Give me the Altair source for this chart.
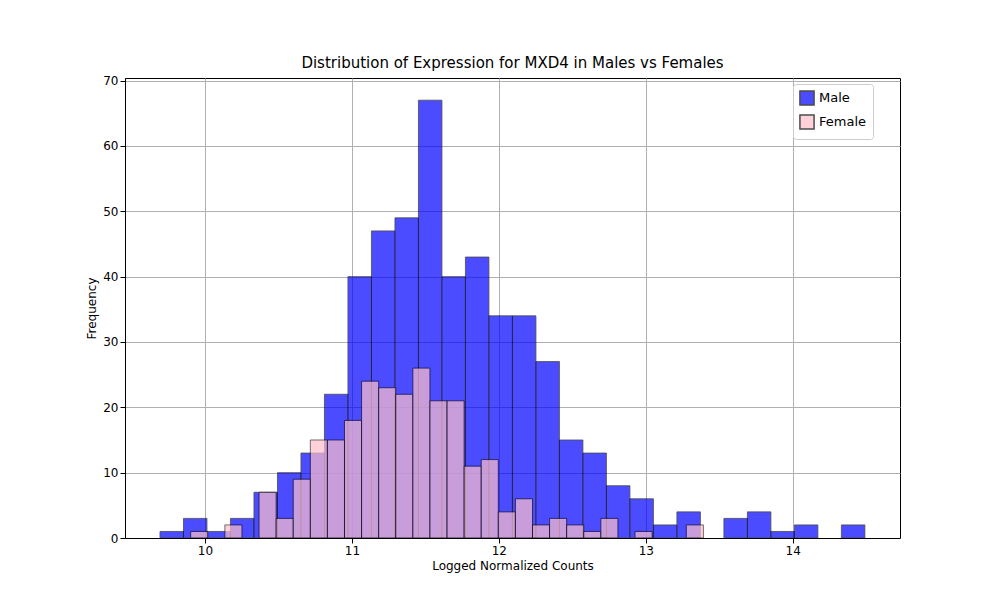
import altair as alt
import pandas as pd

male_start = 9.694
male_width = 0.1599
male_counts = [1, 3, 1, 3, 7, 10, 13, 22, 40, 47, 49, 67, 40, 43, 34, 34, 27, 15,
               13, 8, 6, 2, 4, 0, 3, 4, 1, 2, 0, 2]

female_start = 9.903
female_width = 0.1163
female_counts = [1, 0, 2, 0, 7, 3, 9, 15, 15, 18, 24, 23, 22, 26, 21, 21, 11, 12,
                 4, 6, 2, 3, 2, 1, 3, 0, 1, 0, 0, 2]


def bins(start, width, counts, label):
    rows = []
    for i, c in enumerate(counts):
        if c > 0:
            rows.append({"lo": start + i * width, "hi": start + (i + 1) * width,
                         "count": c, "sex": label})
    return pd.DataFrame(rows)


df = pd.concat([bins(male_start, male_width, male_counts, "Male"),
                bins(female_start, female_width, female_counts, "Female")])

chart = alt.Chart(df).mark_bar(
    opacity=0.7, stroke="black", strokeWidth=1, strokeOpacity=0.8
).encode(
    x=alt.X("lo:Q", scale=alt.Scale(domain=[9.456, 14.73], nice=False, zero=False),
            axis=alt.Axis(values=[10, 11, 12, 13, 14], title="Logged Normalized Counts")),
    x2="hi:Q",
    y=alt.Y("count:Q", scale=alt.Scale(domain=[0, 70.4], nice=False),
            axis=alt.Axis(values=list(range(0, 71, 10)), title="Frequency")),
    y2=alt.datum(0),
    color=alt.Color("sex:N", sort=["Male", "Female"],
                    scale=alt.Scale(domain=["Male", "Female"], range=["blue", "pink"]),
                    legend=alt.Legend(title=None, orient="none", legendX=668, legendY=6,
                                      symbolType="square", symbolSize=200,
                                      symbolOpacity=0.7, symbolStrokeColor="black",
                                      labelFontSize=13, padding=6, strokeColor="#ccc",
                                      fillColor="white", cornerRadius=3)),
    order=alt.Order("sex:N", sort="descending"),
).properties(
    width=775, height=460,
    title=alt.Title("Distribution of Expression for MXD4 in Males vs Females",
                    fontSize=15, fontWeight="normal", font="DejaVu Sans"),
).configure_axis(
    grid=True, gridColor="#b0b0b0", labelFontSize=12, titleFontSize=12,
    titleFontWeight="normal", labelFont="DejaVu Sans", titleFont="DejaVu Sans",
    domainColor="black", tickColor="black", labelColor="black",
).configure_legend(labelFont="DejaVu Sans").configure_view(stroke="black").properties(
    padding={"left": 77, "top": 47, "right": 10, "bottom": 10}
)

chart.save("out.html", embed_options={"renderer": "svg", "actions": False})
